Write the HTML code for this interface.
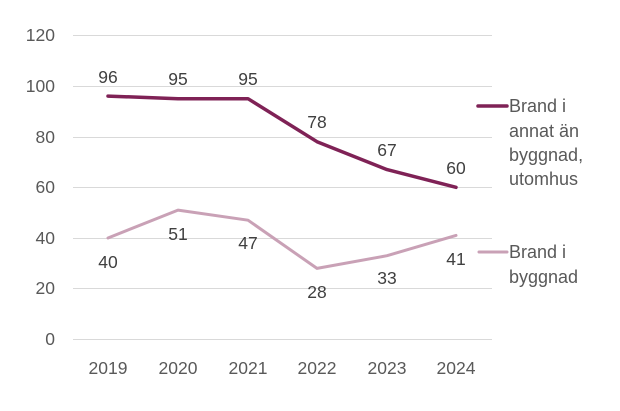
<!DOCTYPE html>
<html>
<head>
<meta charset="utf-8">
<style>
  html,body{margin:0;padding:0;background:#fff;}
  svg{display:block;}
  text{font-family:"Liberation Sans", sans-serif;}
</style>
</head>
<body>
<svg width="620" height="411" viewBox="0 0 620 411" xmlns="http://www.w3.org/2000/svg">
  <rect width="620" height="411" fill="#fff"/>
  <!-- gridlines -->
  <g stroke="#d9d9d9" stroke-width="1">
    <line x1="73" y1="35.5" x2="492" y2="35.5"/>
    <line x1="73" y1="86.5" x2="492" y2="86.5"/>
    <line x1="73" y1="137.5" x2="492" y2="137.5"/>
    <line x1="73" y1="187.5" x2="492" y2="187.5"/>
    <line x1="73" y1="238.5" x2="492" y2="238.5"/>
    <line x1="73" y1="288.5" x2="492" y2="288.5"/>
    <line x1="73" y1="339.5" x2="492" y2="339.5"/>
  </g>
  <!-- y axis labels -->
  <g fill="#595959" font-size="17.5" text-anchor="end">
    <text x="55" y="41">120</text>
    <text x="55" y="92">100</text>
    <text x="55" y="143">80</text>
    <text x="55" y="193">60</text>
    <text x="55" y="244">40</text>
    <text x="55" y="294">20</text>
    <text x="55" y="345">0</text>
  </g>
  <!-- x axis labels -->
  <g fill="#595959" font-size="17.5" text-anchor="middle">
    <text x="108" y="374">2019</text>
    <text x="178" y="374">2020</text>
    <text x="248" y="374">2021</text>
    <text x="317" y="374">2022</text>
    <text x="387" y="374">2023</text>
    <text x="456" y="374">2024</text>
  </g>
  <!-- series -->
  <polyline fill="none" stroke="#c9a1b6" stroke-width="3" stroke-linejoin="round" stroke-linecap="round"
    points="108,238 178,210.1 248,220.2 317,268.4 387,255.7 456,235.4"/>
  <polyline fill="none" stroke="#7f2256" stroke-width="3.5" stroke-linejoin="round" stroke-linecap="round"
    points="108,96.1 178,98.7 248,98.7 317,141.7 387,169.6 456,187.3"/>
  <!-- data labels -->
  <g fill="#404040" font-size="17.5" text-anchor="middle">
    <text x="108" y="83">96</text>
    <text x="178" y="85">95</text>
    <text x="248" y="85">95</text>
    <text x="317" y="128">78</text>
    <text x="387" y="156">67</text>
    <text x="456" y="174">60</text>
    <text x="108" y="268">40</text>
    <text x="178" y="240">51</text>
    <text x="248" y="249">47</text>
    <text x="317" y="298">28</text>
    <text x="387" y="284">33</text>
    <text x="456" y="265">41</text>
  </g>
  <!-- legend -->
  <line x1="478" y1="106" x2="507" y2="106" stroke="#7f2256" stroke-width="3.5" stroke-linecap="round"/>
  <g fill="#595959" font-size="18">
    <text x="509" y="112">Brand i</text>
    <text x="509" y="137">annat än</text>
    <text x="509" y="161">byggnad,</text>
    <text x="509" y="185">utomhus</text>
  </g>
  <line x1="479" y1="252" x2="507" y2="252" stroke="#c9a1b6" stroke-width="3" stroke-linecap="round"/>
  <g fill="#595959" font-size="18">
    <text x="509" y="258">Brand i</text>
    <text x="509" y="283">byggnad</text>
  </g>
</svg>
</body>
</html>
